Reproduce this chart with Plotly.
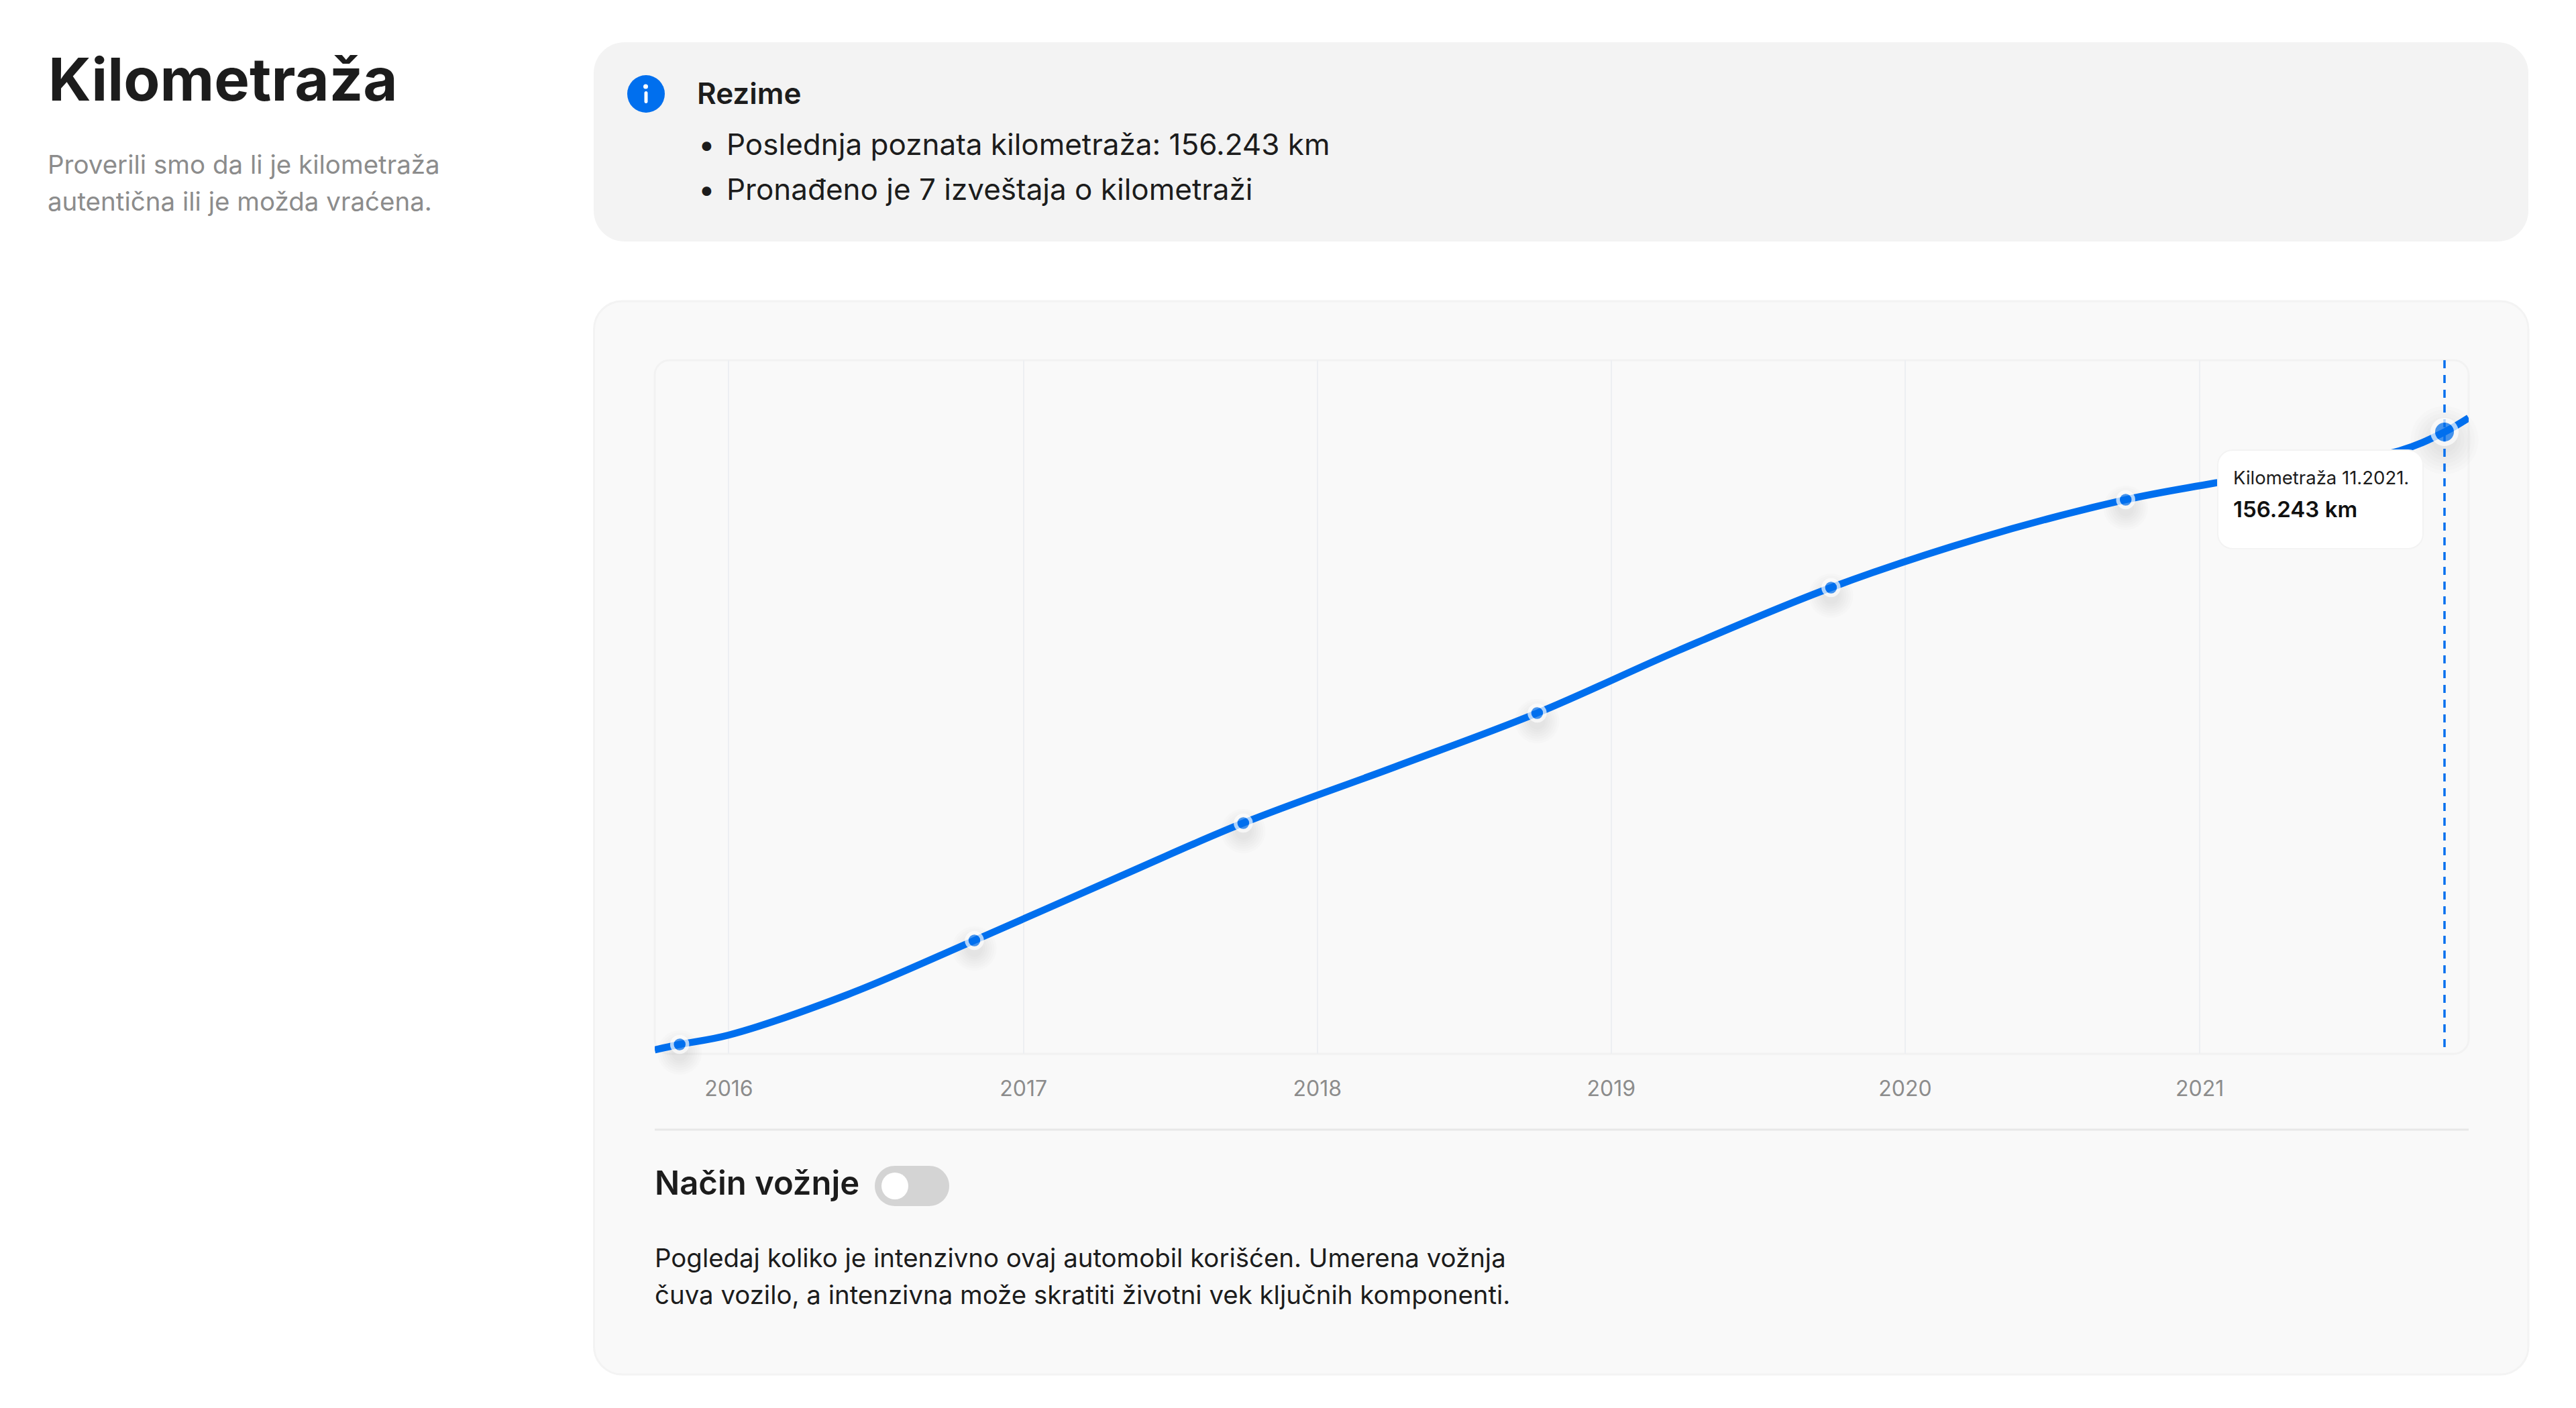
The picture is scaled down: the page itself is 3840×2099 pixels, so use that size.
import plotly.graph_objects as go

# ---- data ----
point_dates = ["2015-11-01", "2016-11-01", "2017-10-01", "2018-10-01", "2019-10-01", "2020-10-01", "2021-11-01"]
point_km = [2360, 28485, 57981, 85623, 117142, 139222, 156243]
curve_dates = ["2015-10-01", "2015-11-01", "2016-01-01", "2016-05-27", "2016-11-01", "2017-05-01", "2017-10-01",
               "2018-04-08", "2018-10-01", "2019-03-25", "2019-10-01", "2020-04-01", "2020-10-01", "2021-01-20",
               "2021-09-06", "2021-11-01", "2021-12-01"]
curve_km = [1010, 2360, 4719, 14832, 28485, 44600, 57981, 72139, 85623, 101300, 117142,
            129500, 139222, 143436, 151526, 156243, 159785]
tick_dates = ["2016-01-01", "2017-01-01", "2018-01-01", "2019-01-01", "2020-01-01", "2021-01-01"]
tick_labels = ["2016", "2017", "2018", "2019", "2020", "2021"]

W, H = 3840, 2099
FONT = "Inter"
BLUE = "#006FEE"
DARK = "#1C1C1C"
GRAY = "#8C8C8C"

PL, PR, PT, PB = 976, 3680, 537, 1571
Y_MAX = 174276
SHADOW_SHIFT = (Y_MAX / (PB - PT)) * 12


def px(x):
    return x / W


def py(y):
    return 1 - y / H


def rrect(x0, y0, x1, y1, r, fill, line=None, lw=0, layer="below"):
    k = r * 0.4477
    pts = [
        f"M{px(x0 + r)},{py(y0)}", f"L{px(x1 - r)},{py(y0)}",
        f"C{px(x1 - k)},{py(y0)} {px(x1)},{py(y0 + k)} {px(x1)},{py(y0 + r)}",
        f"L{px(x1)},{py(y1 - r)}",
        f"C{px(x1)},{py(y1 - k)} {px(x1 - k)},{py(y1)} {px(x1 - r)},{py(y1)}",
        f"L{px(x0 + r)},{py(y1)}",
        f"C{px(x0 + k)},{py(y1)} {px(x0)},{py(y1 - k)} {px(x0)},{py(y1 - r)}",
        f"L{px(x0)},{py(y0 + r)}",
        f"C{px(x0)},{py(y0 + k)} {px(x0 + k)},{py(y0)} {px(x0 + r)},{py(y0)}", "Z",
    ]
    return dict(type="path", xref="paper", yref="paper", path=" ".join(pts), fillcolor=fill,
                line=dict(color=line or fill, width=lw), layer=layer)


def circle(x0, y0, x1, y1, fill):
    return dict(type="circle", xref="paper", yref="paper", x0=px(x0), x1=px(x1), y0=py(y0), y1=py(y1),
                fillcolor=fill, line=dict(width=0), layer="below")


def text(x, y, s, size, color=DARK, weight=400, anchor="left"):
    return dict(x=px(x), y=py(y), xref="paper", yref="paper", text=s, showarrow=False,
                xanchor=anchor, yanchor="middle", align="left",
                font=dict(family=FONT, size=size, color=color, weight=weight))


fig = go.Figure()

# marker shadows (offset axis)
sizes = [23] * (len(point_km) - 1) + [35]
widths = [5.5] * (len(point_km) - 1) + [7]
for scale in [1.1, 1.4, 1.7, 2.0, 2.3, 2.6, 2.9]:
    fig.add_trace(go.Scatter(x=point_dates, y=point_km, mode="markers", yaxis="y", cliponaxis=False,
                             hoverinfo="skip", showlegend=False,
                             marker=dict(size=[s * scale for s in sizes], color="rgba(0,0,0,0.018)", line=dict(width=0))))

# mileage curve
fig.add_trace(go.Scatter(x=curve_dates, y=curve_km, mode="lines", yaxis="y2", showlegend=False, hoverinfo="skip",
                         line=dict(color=BLUE, width=10.5, shape="spline", smoothing=1.0)))

# latest-reading guide
fig.add_trace(go.Scatter(x=[point_dates[-1], point_dates[-1]], y=[Y_MAX, 1500], mode="lines", yaxis="y2",
                         showlegend=False, hoverinfo="skip",
                         line=dict(color=BLUE, width=3.5, dash="12px,10px")))

# readings
fig.add_trace(go.Scatter(x=point_dates, y=point_km, mode="markers", yaxis="y2", cliponaxis=False,
                         showlegend=False, hoverinfo="skip",
                         marker=dict(size=sizes, color=BLUE, line=dict(color="white", width=widths))))

shapes = [
    rrect(885, 63, 3769, 360, 46, "#F3F3F3"),
    rrect(885.5, 449, 3769, 2049, 42, "#F9F9F9", "#F3F3F3", 3),
    rrect(976, PT, PR, PB, 22, "#F9F9F9", "#F2F2F2", 3),
    dict(type="line", xref="paper", yref="paper", x0=px(976), x1=px(3680), y0=py(1684), y1=py(1684),
         line=dict(color="#E8E8E8", width=3), layer="below"),
    circle(935, 112, 991, 168, BLUE),
    circle(959, 125.5, 966, 132.5, "white"),
    rrect(960.5, 136, 965.5, 154, 2.5, "white"),
    rrect(1304, 1738, 1415, 1798, 30, "#D4D4D4"),
    circle(1314, 1748, 1354, 1788, "white"),
    rrect(3306, 671, 3612, 818, 22, "white", "#F3F3F3", 2, layer="above"),
]

annotations = [
    text(70, 118, "Kilometraža", 88.5, DARK, 700),
    text(69, 245, "Proverili smo da li je kilometraža", 38.5, GRAY),
    text(69, 300, "autentična ili je možda vraćena.", 38.5, GRAY),
    text(1037, 139, "Rezime", 44, DARK, 600),
    text(1039, 215, "•", 44),
    text(1081, 215, "Poslednja poznata kilometraža: 156.243 km", 44),
    text(1039, 282, "•", 44),
    text(1081, 282, "Pronađeno je 7 izveštaja o kilometraži", 44),
    text(974, 1763, "Način vožnje", 49, DARK, 600),
    text(974, 1875, "Pogledaj koliko je intenzivno ovaj automobil korišćen. Umerena vožnja", 38.4),
    text(974, 1930, "čuva vozilo, a intenzivna može skratiti životni vek ključnih komponenti.", 38.4),
    text(3327, 712, "Kilometraža 11.2021.", 27.5),
    text(3327, 759, "156.243 km", 33, "#111111", 600),
]

fig.update_layout(
    width=W, height=H, autosize=False,
    margin=dict(l=0, r=0, t=0, b=0, pad=0),
    paper_bgcolor="white", plot_bgcolor="rgba(0,0,0,0)",
    showlegend=False, shapes=shapes, annotations=annotations,
    font=dict(family=FONT),
    xaxis=dict(domain=[px(PL), px(PR)], type="date", range=["2015-10-01", "2021-12-01"],
               tickmode="array", tickvals=tick_dates, ticktext=tick_labels,
               showgrid=True, gridcolor="#EDEFF2", gridwidth=2, zeroline=False, showline=False,
               ticks="outside", ticklen=24, tickcolor="rgba(0,0,0,0)",
               tickfont=dict(family=FONT, size=32, color=GRAY)),
    yaxis=dict(domain=[py(PB), py(PT)], range=[SHADOW_SHIFT, Y_MAX + SHADOW_SHIFT], visible=False, fixedrange=True),
    yaxis2=dict(domain=[py(PB), py(PT)], range=[0, Y_MAX], overlaying="y", visible=False, fixedrange=True),
)

fig.write_html("out.html", config=dict(displayModeBar=False),
               post_script="document.body.style.margin='0';document.documentElement.style.overflow='hidden';")
